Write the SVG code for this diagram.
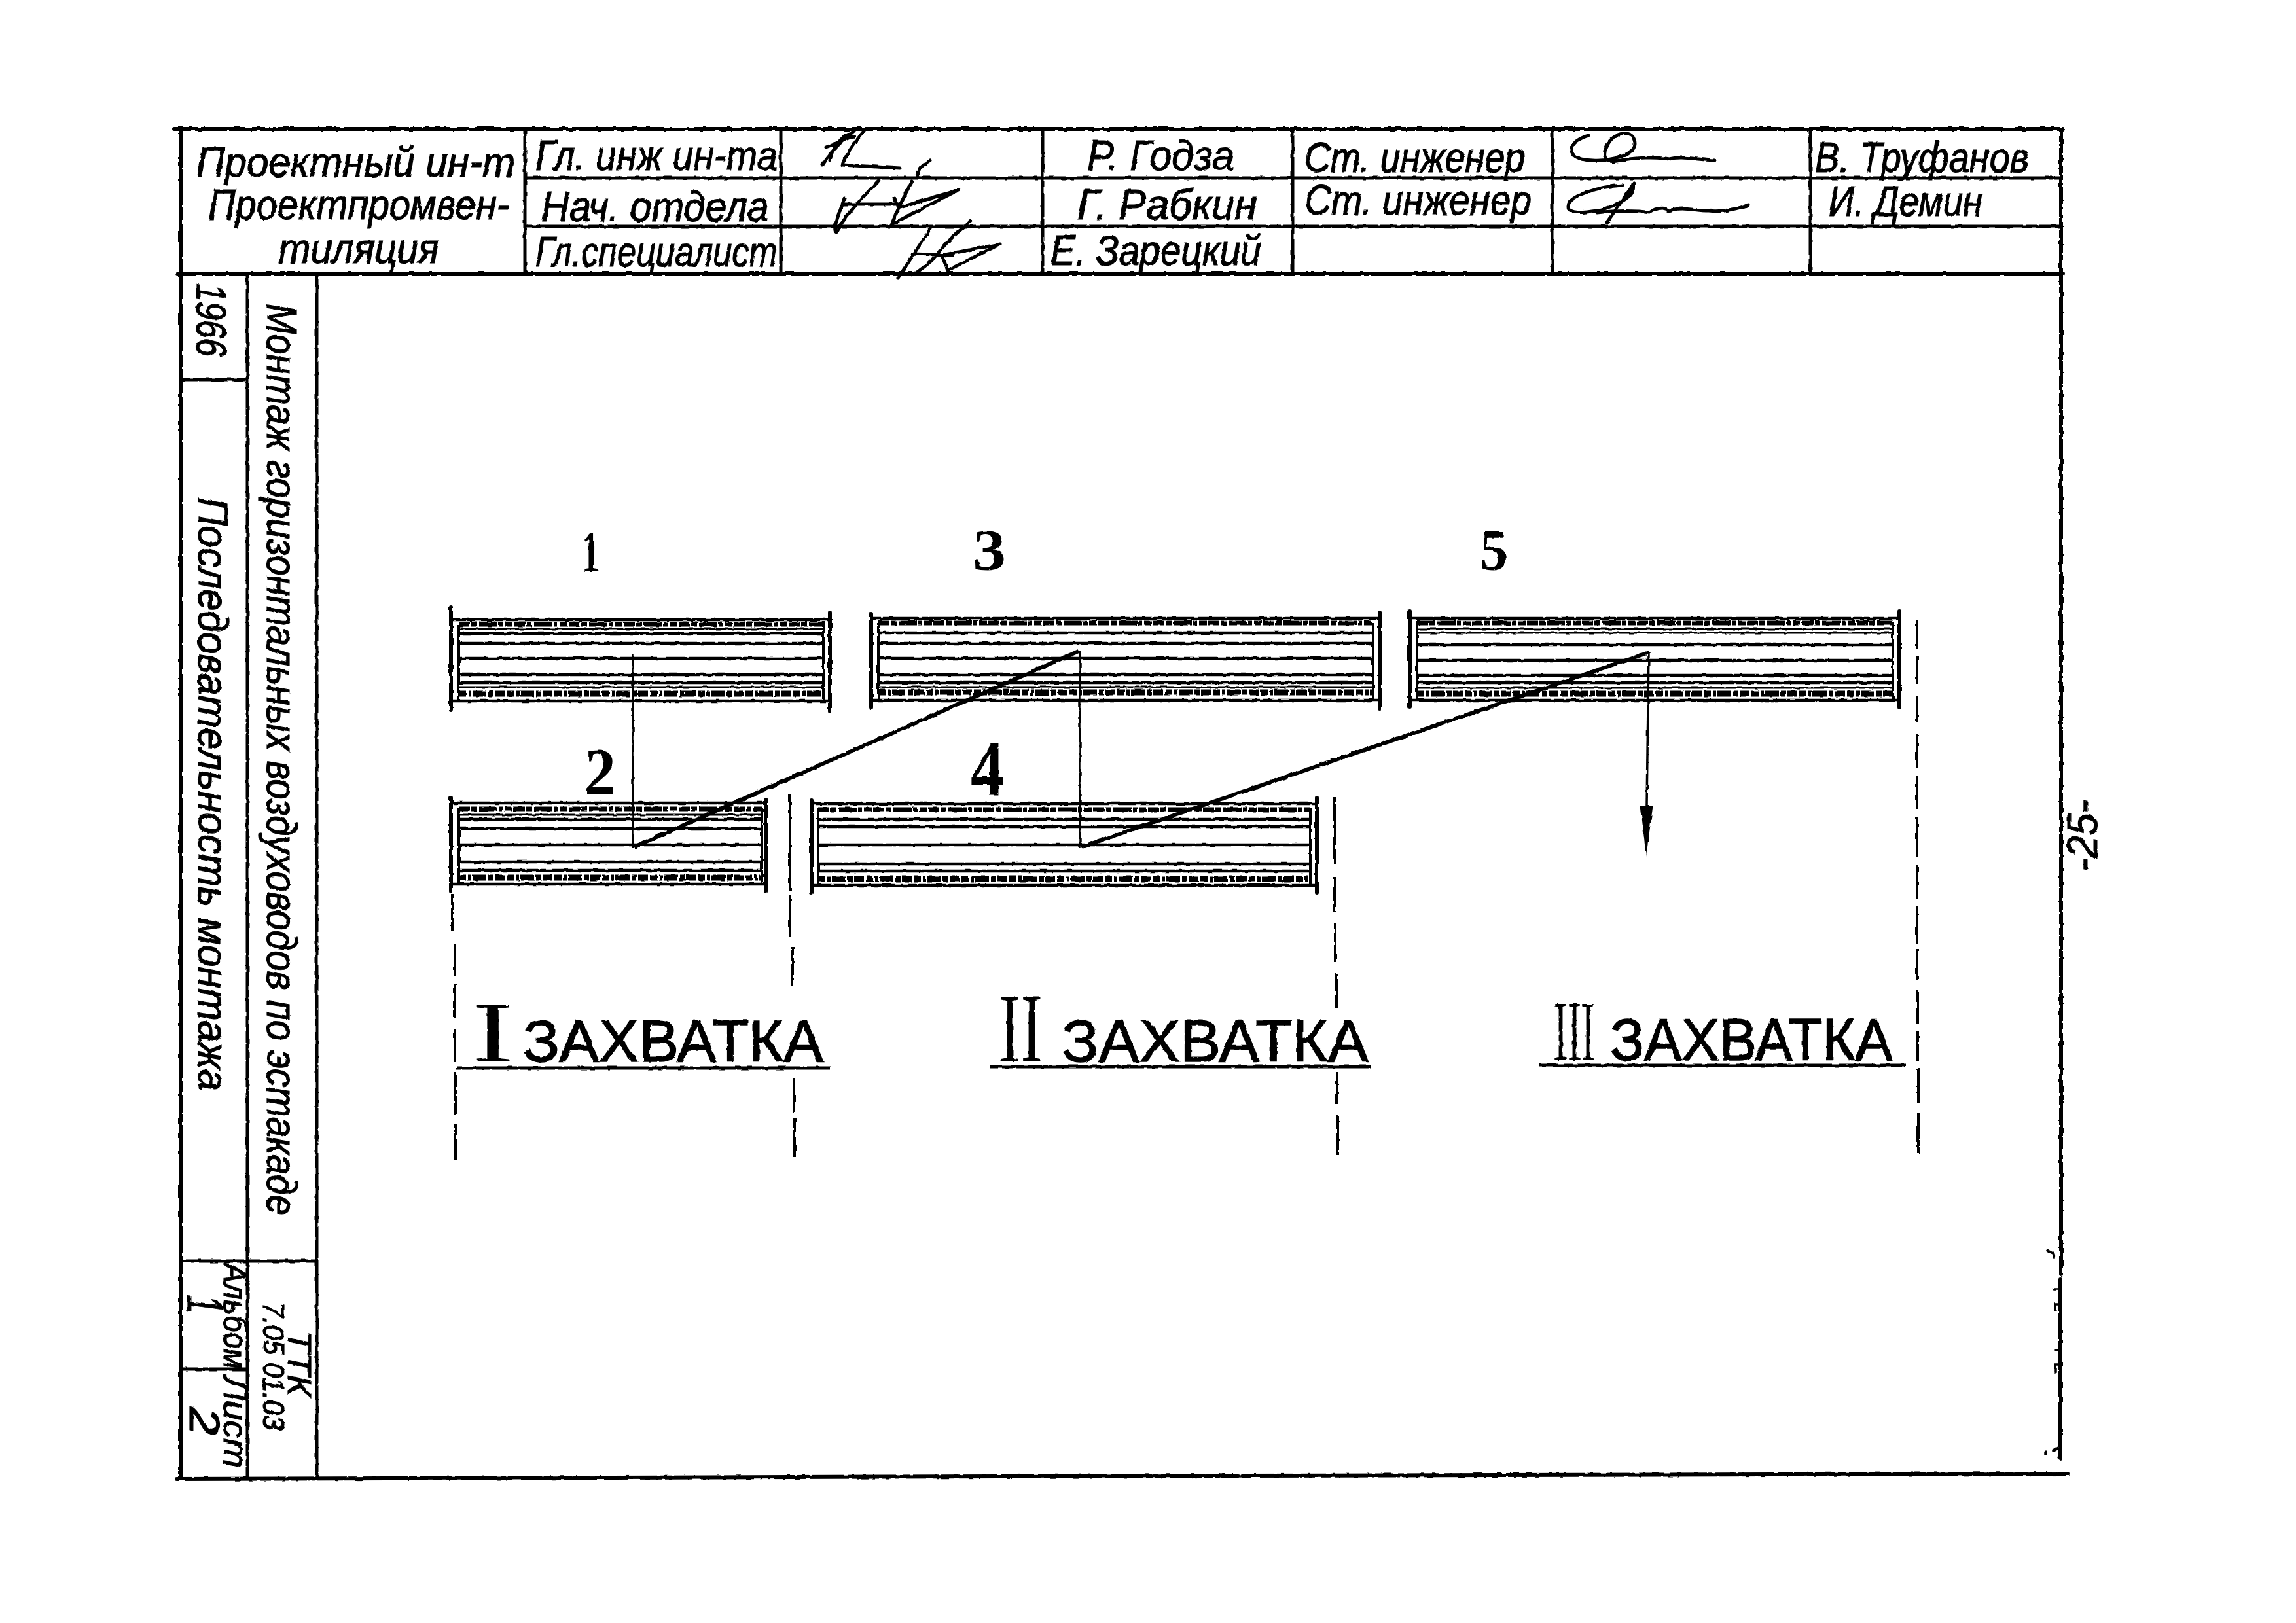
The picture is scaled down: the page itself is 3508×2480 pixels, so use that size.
<svg xmlns="http://www.w3.org/2000/svg" width="3508" height="2480" viewBox="0 0 3508 2480">
<style>
text{fill:#000;font-family:"Liberation Sans","DejaVu Sans",sans-serif}
.h{font-style:italic;font-size:64px;stroke:#000;stroke-width:1.2px}
.s{font-size:90px;stroke:#000;stroke-width:1.5px}
.n{font-family:"Liberation Serif","DejaVu Serif",serif;font-size:88px;font-weight:700}
.r{font-family:"Liberation Serif","DejaVu Serif",serif;font-size:132px}
.f{fill:none;stroke:#000;stroke-width:6;stroke-linecap:round}
.c{fill:none;stroke:#000;stroke-width:5}
.sig{fill:none;stroke:#000;stroke-width:5;stroke-linecap:round;stroke-linejoin:round}
.t{fill:none;stroke:#000;stroke-width:6;stroke-linecap:round}
.i{fill:none;stroke:#000;stroke-width:4}
.l1{fill:none;stroke:#000;stroke-width:4.5}
.l2{fill:none;stroke:#000;stroke-width:3}
.m{fill:none;stroke:#000;stroke-width:7;stroke-dasharray:17 2 9 3 28 2 6 3 12 2}
.m2{fill:none;stroke:#000;stroke-width:9;stroke-dasharray:11 3 5 2 21 3 8 2 15 3}
.d{fill:none;stroke:#000;stroke-width:4}
.z1{fill:none;stroke:#000;stroke-width:3.5}
.z2{fill:none;stroke:#000;stroke-width:6}
.u{fill:none;stroke:#000;stroke-width:5}
.sp{fill:none;stroke:#000;stroke-width:3.5;stroke-linecap:round}
</style>
<defs>
<filter id="rough" x="-2%" y="-2%" width="104%" height="104%"><feTurbulence type="fractalNoise" baseFrequency="0.09" numOctaves="2" seed="4"/><feDisplacementMap in="SourceGraphic" scale="3.5" xChannelSelector="R" yChannelSelector="G"/></filter>
<marker id="arrow" markerUnits="userSpaceOnUse" markerWidth="80" markerHeight="24" refX="1" refY="12" orient="auto"><path d="M0 2.500L78 12L0 21.500Z" fill="#000"/></marker>
</defs>
<rect width="3508" height="2480" fill="#fff"/>
<g filter="url(#rough)">
<g id="frame">
<path class="f" d="M266 197H3152M276 197V2258M272 418H3152M270 2260L1863 2255M1868 2255L1892 2255M1898 2255L3160 2252M3149 197V1948M3148 1955V2228"/>
<path class="c" d="M802 197V418M1193 197V418M1593 197V418M1975 197V418M2372 197V418M2766 197V418M802 272H3150M802 346H3150M378 418V2258M484 418V2258M276 580H378M276 1927H484M276 2092H378"/>
<path class="sp" d="M3128 1910C3134 1916 3140 1912 3138 1922M3137 1970H3147M3140 2002V1992H3147M3140 2063H3147M3140 2097V2085H3147M3125 2223V2218M3137 2217L3148 2210M3146 2227H3147"/>
</g>
<g id="title-block">
<text class="h" x="300" y="270" textLength="487" lengthAdjust="spacingAndGlyphs">Проектный ин-т</text>
<text class="h" x="318" y="335" textLength="460" lengthAdjust="spacingAndGlyphs">Проектпромвен-</text>
<text class="h" x="425" y="402" textLength="246" lengthAdjust="spacingAndGlyphs">тиляция</text>
<text class="h" x="818" y="260" textLength="370" lengthAdjust="spacingAndGlyphs">Гл. инж ин-та</text>
<text class="h" x="827" y="338" textLength="348" lengthAdjust="spacingAndGlyphs">Нач. отдела</text>
<text class="h" x="818" y="407" textLength="370" lengthAdjust="spacingAndGlyphs">Гл.специалист</text>
<text class="h" x="1661" y="260" textLength="225" lengthAdjust="spacingAndGlyphs">Р. Годза</text>
<text class="h" x="1646" y="335" textLength="275" lengthAdjust="spacingAndGlyphs">Г. Рабкин</text>
<text class="h" x="1605" y="405" textLength="322" lengthAdjust="spacingAndGlyphs">Е. Зарецкий</text>
<text class="h" x="1993" y="263" textLength="337" lengthAdjust="spacingAndGlyphs">Ст. инженер</text>
<text class="h" x="1993" y="328" textLength="347" lengthAdjust="spacingAndGlyphs">Ст. инженер</text>
<text class="h" x="2773" y="263" textLength="327" lengthAdjust="spacingAndGlyphs">В. Труфанов</text>
<text class="h" x="2794" y="330" textLength="235" lengthAdjust="spacingAndGlyphs">И. Демин</text>
</g>
<g id="signatures">
<path class="sig" d="M1305 200C1285 215 1263 240 1256 252M1300 205C1288 205 1272 225 1268 245M1320 200C1300 225 1290 240 1287 252L1375 257M1262 225L1305 208M1421 245C1405 255 1398 265 1403 272"/>
<path class="sig" d="M1345 273C1320 300 1290 330 1278 355C1270 352 1285 320 1290 303M1394 277C1380 300 1370 325 1362 343M1287 312L1376 312M1367 303L1372 318L1465 290M1465 290L1362 343"/>
<path class="sig" d="M1421 350C1405 375 1385 405 1372 425M1483 337C1470 350 1450 365 1439 380C1430 395 1410 410 1395 420M1394 388L1456 390M1528 373L1439 390L1448 413L1528 373"/>
<path class="sig" d="M2427 207C2400 215 2390 235 2416 243C2445 250 2498 240 2498 220C2498 200 2475 198 2460 215C2448 232 2447 250 2470 246C2500 240 2530 240 2550 243C2570 238 2590 244 2620 245"/>
<path class="sig" d="M2480 283C2440 285 2396 300 2396 315C2396 328 2420 325 2440 322C2470 315 2500 300 2495 282M2497 280L2455 340M2440 325C2470 322 2500 322 2520 325C2535 315 2545 318 2550 322C2570 315 2590 322 2610 322C2630 325 2660 318 2671 313"/>
</g>
<g id="side-block">
<text class="h" transform="translate(300 433) rotate(90)" textLength="112" lengthAdjust="spacingAndGlyphs">1966</text>
<text class="h" transform="translate(408 464) rotate(90)" textLength="1393" lengthAdjust="spacingAndGlyphs">Монтаж горизонтальных воздуховодов по эстакаде</text>
<text class="h" transform="translate(303 760) rotate(90)" textLength="907" lengthAdjust="spacingAndGlyphs">Последовательность монтажа</text>
<text class="h" style="font-size:52px" transform="translate(342 1930) rotate(90)" textLength="162" lengthAdjust="spacingAndGlyphs">Альбом</text>
<text class="h" style="font-size:52px" transform="translate(342 2103) rotate(90)" textLength="140" lengthAdjust="spacingAndGlyphs">Лист</text>
<text class="h" style="font-size:78px" transform="translate(286 1978) rotate(90)" textLength="30" lengthAdjust="spacingAndGlyphs">1</text>
<text class="h" style="font-size:64px" transform="translate(290 2150) rotate(90)" textLength="43" lengthAdjust="spacingAndGlyphs">2</text>
<text class="h" style="font-size:50px" transform="translate(440 2033) rotate(90)" textLength="100" lengthAdjust="spacingAndGlyphs">ТТК</text>
<text class="h" style="font-size:46px" transform="translate(402 1990) rotate(90)" textLength="195" lengthAdjust="spacingAndGlyphs">7.05 01.03</text>
</g>
<g id="page-number"><text class="h" transform="translate(3204 1332) rotate(-90)" textLength="110" lengthAdjust="spacingAndGlyphs">-25-</text></g>
<g id="bar-1">
<path class="t" d="M689 928V1085M1268 936V1087"/><path class="i" d="M701 955V1072M1258 950V1072"/>
<path class="l1" d="M691 947H1266M701 968H1258M701 983H1258M701 1006H1258M701 1031H1258M701 1043H1258M691 1071H1266"/><path class="l2" d="M701 961H1258M701 1050H1258"/>
<path class="m" d="M701 954H1258"/><path class="m2" d="M701 1060H1258"/>
<text class="n" x="889" y="872" textLength="27" lengthAdjust="spacingAndGlyphs">1</text>
</g>
<g id="bar-2">
<path class="t" d="M689 1219V1362M1170 1221V1362"/><path class="i" d="M701 1235V1351M1164 1235V1351"/>
<path class="l1" d="M691 1227H1170M701 1252H1164M701 1266H1164M701 1291H1164M701 1317H1164M701 1330H1164M691 1351H1170"/><path class="l2" d="M701 1245H1164"/>
<path class="m" d="M701 1236H1164"/><path class="m2" d="M701 1341H1164"/>
<text class="n" x="893" y="1212" textLength="48" lengthAdjust="spacingAndGlyphs" style="font-size:100px">2</text>
</g>
<g id="bar-3">
<path class="t" d="M1331 938V1081M2108 936V1083"/><path class="i" d="M1342 952V1070M2098 952V1070"/>
<path class="l1" d="M1333 945H2106M1342 967H2098M1342 983H2098M1342 1006H2098M1342 1031H2098M1342 1043H2098M1333 1070H2106"/><path class="l2" d="M1342 1050H2098"/>
<path class="m" d="M1342 952H2098"/><path class="m2" d="M1342 1058H2098"/>
<text class="n" x="1486" y="870" textLength="51" lengthAdjust="spacingAndGlyphs">3</text>
</g>
<g id="bar-4">
<path class="t" d="M1240 1223V1364M2012 1219V1364"/><path class="i" d="M1250 1235V1353M2002 1235V1353"/>
<path class="l1" d="M1242 1228H2010M1250 1252H2002M1250 1263H2002M1250 1291H2002M1250 1320H2002M1250 1331H2002M1242 1353H2010"/>
<path class="m" d="M1250 1237H2002"/><path class="m2" d="M1250 1343H2002"/>
<text class="n" x="1483" y="1214" textLength="51" lengthAdjust="spacingAndGlyphs" style="font-size:118px">4</text>
</g>
<g id="bar-5">
<path class="t" d="M2154 934V1080M2902 934V1081"/><path class="i" d="M2165 950V1070M2892 950V1070"/>
<path class="l1" d="M2156 945H2900M2165 985H2892M2165 1009H2892M2165 1032H2892M2165 1043H2892M2156 1070H2900"/><path class="l2" d="M2165 961H2892M2165 967H2892M2165 1051H2892"/>
<path class="m" d="M2165 952H2892"/><path class="m2" d="M2165 1060H2892"/>
<text class="n" x="2261" y="870" textLength="43" lengthAdjust="spacingAndGlyphs">5</text>
</g>
<g id="dividers">
<path class="d" d="M691 1366V1423M695 1443V1492M695 1503V1555M695 1573V1622M696 1638V1703M696 1717V1773"/>
<path class="d" d="M1207 1213V1362M1207 1368V1432M1211 1447V1507M1213 1647V1700M1214 1708V1768"/>
<path class="d" d="M2039 1219V1320M2039 1340V1393M2040 1410V1470M2042 1488V1540M2043 1638V1687M2044 1703V1765"/>
<path class="d" d="M2929 949V991M2929 1003V1045M2929 1064V1102M2929 1121V1173M2929 1186V1236M2929 1248V1309M2929 1322V1374M2929 1384V1443M2929 1450V1498M2930 1512V1565M2930 1575V1622M2931 1632V1685M2931 1700V1763"/>
</g>
<g id="connectors">
<path class="z1" d="M967 999V1296M1650 995V1296"/>
<path class="z2" d="M969 1294L1648 995M1653 1294L2519 997"/>
<path class="z1" d="M2519 997L2516 1232" marker-end="url(#arrow)"/>
</g>
<g id="zone-1">
<path class="u" d="M698 1632H1268"/>
<text class="r" x="722" y="1622" textLength="62" lengthAdjust="spacingAndGlyphs">I</text>
<text class="s" x="799" y="1622" textLength="459" lengthAdjust="spacingAndGlyphs">ЗАХВАТКА</text>
</g>
<g id="zone-2">
<path class="u" d="M1512 1630H2095"/>
<text class="r" transform="translate(1526 1622) scale(.67 1)" style="font-size:150px">II</text>
<text class="s" x="1622" y="1622" textLength="469" lengthAdjust="spacingAndGlyphs">ЗАХВАТКА</text>
</g>
<g id="zone-3">
<path class="u" d="M2352 1628H2911"/>
<text class="r" transform="translate(2374 1620) scale(.477 1)">III</text>
<text class="s" x="2460" y="1620" textLength="432" lengthAdjust="spacingAndGlyphs">ЗАХВАТКА</text>
</g>
</g>
</svg>
